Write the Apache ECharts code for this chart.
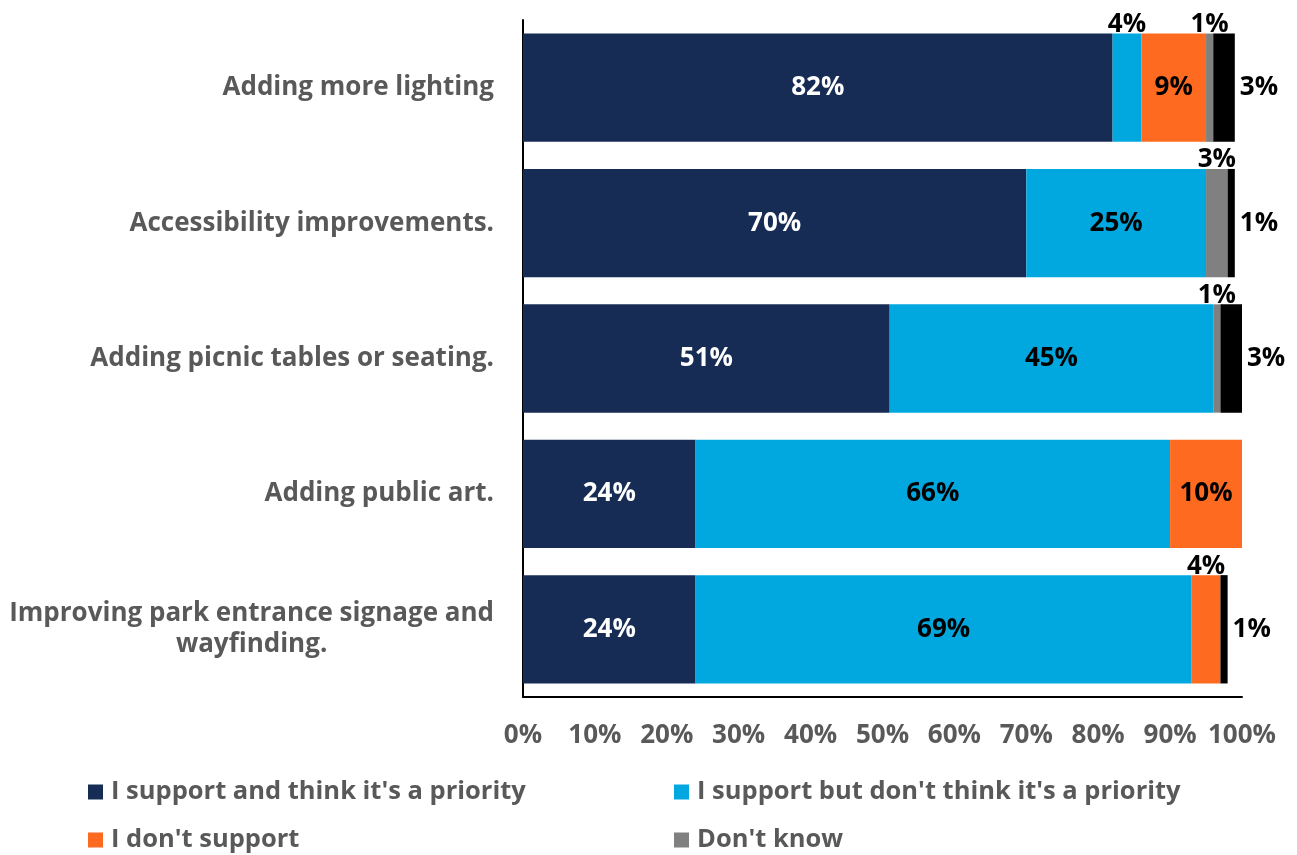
<!DOCTYPE html>
<html>
<head>
<meta charset="utf-8">
<script src="https://cdn.jsdelivr.net/npm/echarts@6/dist/echarts.min.js"></script>
<style>
  html, body { margin: 0; padding: 0; background: #ffffff; }
  #chart { width: 1297px; height: 855px; }
</style>
</head>
<body>
<div id="chart"></div>
<script>
// Survey categories, top to bottom
const categories = [
  'Adding more lighting',
  'Accessibility improvements.',
  'Adding picnic tables or seating.',
  'Adding public art.',
  'Improving park entrance signage and\nwayfinding.'
];

// Response shares (%) per category
const seriesNames = [
  "I support and think it's a priority",
  "I support but don't think it's a priority",
  "I don't support",
  "Don't know",
  "No response"
];
const priority    = [82, 70, 51, 24, 24];
const notPriority = [4, 25, 45, 66, 69];
const dontSupport = [9, 0, 0, 10, 4];
const dontKnow    = [1, 3, 1, 0, 0];
const noResponse  = [3, 1, 3, 0, 1];

// Axis ticks
const xMin = 0, xMax = 100, xStep = 10;

const colors = ['#172c55', '#00a8df', '#fd6a20', '#808080', '#000000'];
const FONT = '"Open Sans", "Liberation Sans", sans-serif';
const TEXT_GRAY = '#595959';

const allValues = [priority, notPriority, dontSupport, dontKnow, noResponse];

// Place each segment label: large segments inside, small ones above, last one to the right
function buildData(values, si) {
  const last = si === allValues.length - 1;
  return values.map(v => {
    if (!v) return { value: 0, label: { show: false } };
    let label;
    if (last) {
      label = { show: true, position: 'right', distance: 5, color: '#000' };
    } else if (v < 5) {
      label = { show: true, position: 'top', distance: -4, color: '#000' };
    } else {
      label = { show: true, position: 'inside', color: si === 0 ? '#ffffff' : '#000000' };
    }
    return { value: v, label };
  });
}

const series = allValues.map((vals, si) => ({
  name: seriesNames[si],
  type: 'bar',
  stack: 'total',
  barCategoryGap: '20%',
  itemStyle: { color: colors[si] },
  label: {
    formatter: '{c}%',
    fontFamily: FONT,
    fontWeight: 'bold',
    fontSize: 26
  },
  data: buildData(vals, si)
}));

// One legend block per entry, laid out in two columns
const legendPos = [
  { left: 88, top: 777 },
  { left: 674, top: 777 },
  { left: 88, top: 825 },
  { left: 674, top: 825 }
];
const legends = legendPos.map((p, i) => ({
  left: p.left,
  top: p.top,
  data: [seriesNames[i]],
  icon: 'rect',
  itemWidth: 15,
  itemHeight: 15,
  itemGap: 0,
  padding: 0,
  selectedMode: false,
  textStyle: {
    fontFamily: FONT,
    fontWeight: 'bold',
    fontSize: 25.5,
    color: TEXT_GRAY,
    lineHeight: 30,
    padding: [0, 0, 0, 3]
  }
}));

const option = {
  backgroundColor: '#ffffff',
  animation: false,
  color: colors,
  legend: legends,
  grid: { left: 523, right: 55, top: 20, bottom: 158, containLabel: false },
  xAxis: {
    type: 'value',
    min: xMin,
    max: xMax,
    interval: xStep,
    axisLine: { show: true, lineStyle: { color: '#000', width: 2 } },
    axisTick: { show: false },
    splitLine: { show: false },
    axisLabel: {
      formatter: '{value}%',
      margin: 26,
      fontFamily: FONT,
      fontWeight: 'bold',
      fontSize: 26,
      color: TEXT_GRAY
    }
  },
  yAxis: {
    type: 'category',
    inverse: true,
    data: categories,
    axisLine: { show: true, lineStyle: { color: '#000', width: 2 } },
    axisTick: { show: false },
    axisLabel: {
      margin: 29,
      formatter: v => v.split('\n').map(s => '{c|' + s + '}').join('\n'),
      rich: {
        c: {
          align: 'center',
          fontFamily: FONT,
          fontWeight: 'bold',
          fontSize: 26,
          lineHeight: 31,
          color: TEXT_GRAY
        }
      }
    }
  },
  series
};

const chart = echarts.init(document.getElementById('chart'), null, { renderer: 'canvas' });
chart.setOption(option);
</script>
</body>
</html>
